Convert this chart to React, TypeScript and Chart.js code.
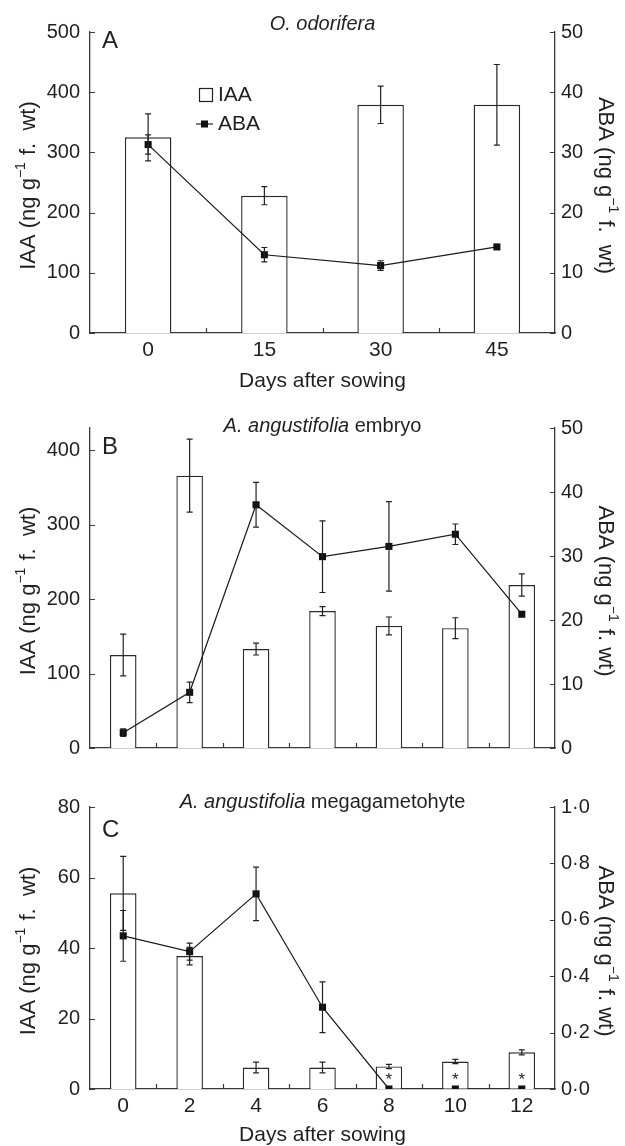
import React, { useEffect, useRef } from 'react';
import { Chart, registerables } from 'chart.js';

Chart.register(...registerables);

// ---------- Data ----------
// Panel A: O. odorifera
const daysA = ['0', '15', '30', '45'];
const iaaA = [325, 228, 379, 379];
const iaaAErr = [39, 15, 31, 67];
const abaA = [31.3, 13.0, 11.2, 14.3];
const abaAErr = [1.6, 1.2, 0.8, 0];
const leftTicksA = [0, 100, 200, 300, 400, 500];
const rightTicksA = [0, 10, 20, 30, 40, 50];

// Panel B: A. angustifolia embryo
const daysB = ['0', '2', '4', '6', '8', '10', '12'];
const iaaB = [125, 366, 133, 184, 164, 161, 219];
const iaaBErr = [28, 49, 8, 6, 12, 14, 15];
const abaB = [2.4, 8.7, 38.0, 29.9, 31.5, 33.4, 20.9];
const abaBErr = [0.6, 1.6, 3.5, 5.6, 7.0, 1.6, 0];
const leftTicksB = [0, 100, 200, 300, 400];
const rightTicksB = [0, 10, 20, 30, 40, 50];

// Panel C: A. angustifolia megagametophyte
const daysC = ['0', '2', '4', '6', '8', '10', '12'];
const iaaC = [55.5, 37.7, 6.1, 6.1, 6.4, 7.8, 10.4];
const iaaCErr = [10.5, 2.5, 1.5, 1.5, 0.6, 0.6, 0.7];
const abaC = [0.543, 0.487, 0.692, 0.29, 0, 0, 0];
const abaCErr = [0.09, 0.03, 0.095, 0.09, 0, 0, 0];
const starsC = [false, false, false, false, true, true, true];
const leftTicksC = [0, 20, 40, 60, 80];
const rightTicksC = [0, 0.2, 0.4, 0.6, 0.8, 1.0];
const rightTickLabelsC = ['0·0', '0·2', '0·4', '0·6', '0·8', '1·0'];

// ---------- Style ----------
const W = 625;
const LEFT = 90;
const RIGHT = 555;
const FONT = "'Liberation Sans', Arial, Helvetica, sans-serif";
const TEXT = '#231f20';
const AXIS = '#3a3a3a';
const TICK_FS = 20;

type Panel = {
  top: number;
  height: number;
  areaTop: number;
  areaBottom: number;
  labels: string[];
  iaa: number[];
  iaaErr: number[];
  aba: number[];
  abaErr: number[];
  leftMax: number;
  rightMax: number;
  leftTicks: number[];
  rightTicks: number[];
  rightTickLabels?: string[];
  titleItalic: string;
  titleRest: string;
  titleY: number;
  letter: string;
  letterY: number;
  showX: boolean;
  legend: boolean;
  stars?: boolean[];
  leftTitleGap: string;
  rightTitleGap: string;
};

const panels: Panel[] = [
  {
    top: 0, height: 395, areaTop: 32, areaBottom: 333,
    labels: daysA, iaa: iaaA, iaaErr: iaaAErr, aba: abaA, abaErr: abaAErr,
    leftMax: 500, rightMax: 50, leftTicks: leftTicksA, rightTicks: rightTicksA,
    titleItalic: 'O. odorifera', titleRest: '', titleY: 24,
    letter: 'A', letterY: 41, showX: true, legend: true,
    leftTitleGap: '  ', rightTitleGap: '  ',
  },
  {
    top: 395, height: 375, areaTop: 33, areaBottom: 357,
    labels: daysB, iaa: iaaB, iaaErr: iaaBErr, aba: abaB, abaErr: abaBErr,
    leftMax: 430, rightMax: 50, leftTicks: leftTicksB, rightTicks: rightTicksB,
    titleItalic: 'A. angustifolia', titleRest: ' embryo', titleY: 31,
    letter: 'B', letterY: 52, showX: false, legend: false,
    leftTitleGap: '  ', rightTitleGap: ' ',
  },
  {
    top: 770, height: 376, areaTop: 37, areaBottom: 319,
    labels: daysC, iaa: iaaC, iaaErr: iaaCErr, aba: abaC, abaErr: abaCErr,
    leftMax: 80, rightMax: 1.0, leftTicks: leftTicksC, rightTicks: rightTicksC,
    rightTickLabels: rightTickLabelsC,
    titleItalic: 'A. angustifolia', titleRest: ' megagametohyte', titleY: 32,
    letter: 'C', letterY: 60, showX: true, legend: false, stars: starsC,
    leftTitleGap: '  ', rightTitleGap: ' ',
  },
];

function drawRotatedTitle(
  ctx: CanvasRenderingContext2D, x: number, y: number, angle: number,
  pre: string, sup: string, post: string,
) {
  const fMain = `22px ${FONT}`;
  const fSup = `14px ${FONT}`;
  ctx.save();
  ctx.translate(x, y);
  ctx.rotate(angle);
  ctx.fillStyle = TEXT;
  ctx.textBaseline = 'middle';
  ctx.textAlign = 'left';
  ctx.font = fMain;
  const w1 = ctx.measureText(pre).width;
  const w3 = ctx.measureText(post).width;
  ctx.font = fSup;
  const w2 = ctx.measureText(sup).width;
  const total = w1 + w2 + w3 + 1;
  let cx = -total / 2;
  ctx.font = fMain;
  ctx.fillText(pre, cx, 0);
  cx += w1;
  ctx.font = fSup;
  ctx.fillText(sup, cx, -8);
  cx += w2 + 1;
  ctx.font = fMain;
  ctx.fillText(post, cx, 0);
  ctx.restore();
}

function makePlugin(p: Panel) {
  return {
    id: 'decor',
    afterDatasetsDraw(chart: any) {
      const ctx: CanvasRenderingContext2D = chart.ctx;
      const xs = chart.scales.x;
      const yl = chart.scales.y;
      const yr = chart.scales.y1;
      ctx.save();
      ctx.strokeStyle = '#222';
      ctx.lineWidth = 1.2;
      const cap = 3;
      const drawErr = (vals: number[], errs: number[], scale: any) => {
        vals.forEach((v, i) => {
          const e = errs[i];
          if (!e) return;
          const x = xs.getPixelForValue(i);
          const y1 = scale.getPixelForValue(v + e);
          const y2 = scale.getPixelForValue(v - e);
          ctx.beginPath();
          ctx.moveTo(x, y1);
          ctx.lineTo(x, y2);
          ctx.moveTo(x - cap, y1);
          ctx.lineTo(x + cap, y1);
          ctx.moveTo(x - cap, y2);
          ctx.lineTo(x + cap, y2);
          ctx.stroke();
        });
      };
      drawErr(p.iaa, p.iaaErr, yl);
      drawErr(p.aba, p.abaErr, yr);
      ctx.restore();
    },
    afterDraw(chart: any) {
      const ctx: CanvasRenderingContext2D = chart.ctx;
      const area = chart.chartArea;
      const xs = chart.scales.x;
      const yl = chart.scales.y;
      const yr = chart.scales.y1;
      ctx.save();
      // inward ticks
      ctx.strokeStyle = AXIS;
      ctx.lineWidth = 1.2;
      const tl = 5;
      ctx.beginPath();
      p.leftTicks.forEach((v) => {
        const y = Math.round(yl.getPixelForValue(v)) + 0.5;
        ctx.moveTo(area.left, y);
        ctx.lineTo(area.left + tl, y);
      });
      p.rightTicks.forEach((v) => {
        const y = Math.round(yr.getPixelForValue(v)) + 0.5;
        ctx.moveTo(area.right, y);
        ctx.lineTo(area.right - tl, y);
      });
      for (let i = 1; i < p.labels.length; i++) {
        const x = Math.round((xs.getPixelForValue(i - 1) + xs.getPixelForValue(i)) / 2) + 0.5;
        ctx.moveTo(x, area.bottom);
        ctx.lineTo(x, area.bottom - tl);
      }
      ctx.stroke();

      // stars
      if (p.stars) {
        ctx.fillStyle = TEXT;
        ctx.font = `17px ${FONT}`;
        ctx.textAlign = 'center';
        ctx.textBaseline = 'middle';
        p.stars.forEach((s, i) => {
          if (!s) return;
          ctx.fillText('*', xs.getPixelForValue(i), yl.getPixelForValue(0) - 9);
        });
      }

      // panel title
      ctx.fillStyle = TEXT;
      ctx.textBaseline = 'middle';
      ctx.textAlign = 'left';
      const fI = `italic 20px ${FONT}`;
      const fR = `20px ${FONT}`;
      ctx.font = fI;
      const wI = ctx.measureText(p.titleItalic).width;
      ctx.font = fR;
      const wR = ctx.measureText(p.titleRest).width;
      const cx = (area.left + area.right) / 2;
      let tx = cx - (wI + wR) / 2;
      ctx.font = fI;
      ctx.fillText(p.titleItalic, tx, p.titleY);
      tx += wI;
      ctx.font = fR;
      ctx.fillText(p.titleRest, tx, p.titleY);

      // panel letter
      ctx.font = `24px ${FONT}`;
      ctx.fillText(p.letter, area.left + 12, p.letterY);

      // axis titles
      const midY = (area.top + area.bottom) / 2 + 3;
      drawRotatedTitle(ctx, 29, midY, -Math.PI / 2, 'IAA (ng g', '−1', ` f.${p.leftTitleGap}wt)`);
      drawRotatedTitle(ctx, 605, midY, Math.PI / 2, 'ABA (ng g', '−1', ` f.${p.rightTitleGap}wt)`);

      // legend
      if (p.legend) {
        ctx.strokeStyle = '#222';
        ctx.lineWidth = 1.2;
        ctx.strokeRect(199.5, 88.5, 13, 13);
        ctx.fillStyle = TEXT;
        ctx.font = `21px ${FONT}`;
        ctx.textBaseline = 'middle';
        ctx.fillText('IAA', 218, 95);
        ctx.beginPath();
        ctx.moveTo(196, 124);
        ctx.lineTo(213, 124);
        ctx.stroke();
        ctx.fillStyle = '#111';
        ctx.fillRect(201, 120.5, 7, 7);
        ctx.fillStyle = TEXT;
        ctx.fillText('ABA', 218, 124);
      }
      ctx.restore();
    },
  };
}

function PanelChart({ p }: { p: Panel }) {
  const ref = useRef<HTMLCanvasElement | null>(null);
  useEffect(() => {
    if (!ref.current) return;
    const tickFont = { family: FONT, size: TICK_FS };
    const chart = new Chart(ref.current, {
      type: 'bar',
      data: {
        labels: p.labels,
        datasets: [
          {
            type: 'line',
            label: 'ABA',
            data: p.aba,
            yAxisID: 'y1',
            borderColor: '#1a1a1a',
            borderWidth: 1.2,
            pointStyle: 'rect',
            pointRadius: 5,
            pointBackgroundColor: '#111',
            pointBorderColor: '#111',
            pointBorderWidth: 0,
            tension: 0,
            fill: false,
            order: 0,
          } as any,
          {
            type: 'bar',
            label: 'IAA',
            data: p.iaa,
            yAxisID: 'y',
            backgroundColor: '#ffffff',
            borderColor: '#2a2a2a',
            borderWidth: 1.4,
            barPercentage: 0.4,
            categoryPercentage: 1.0,
            order: 1,
          },
        ],
      },
      options: {
        animation: false,
        responsive: false,
        maintainAspectRatio: false,
        layout: { padding: { top: p.areaTop, left: 0, right: 0, bottom: 0 } },
        plugins: {
          legend: { display: false },
          tooltip: { enabled: false },
        },
        scales: {
          x: {
            type: 'category',
            offset: true,
            grid: { display: false, drawTicks: false },
            border: { display: true, color: AXIS, width: 1.3 },
            ticks: {
              display: p.showX,
              color: TEXT,
              font: { family: FONT, size: 21 },
              padding: 5,
              maxRotation: 0,
              autoSkip: false,
            },
            title: {
              display: p.showX,
              text: 'Days after sowing',
              color: TEXT,
              font: { family: FONT, size: 21, lineHeight: 1 },
              padding: { top: 0, bottom: p.top === 0 ? 3 : 0 },
            },
            afterFit: (s: any) => {
              s.height = p.height - p.areaBottom;
            },
          },
          y: {
            type: 'linear',
            position: 'left',
            min: 0,
            max: p.leftMax,
            grid: { display: false, drawTicks: false },
            border: { display: true, color: AXIS, width: 1.3 },
            ticks: { color: TEXT, font: tickFont, padding: 10 },
            afterBuildTicks: (s: any) => {
              s.ticks = p.leftTicks.map((v) => ({ value: v }));
            },
            afterFit: (s: any) => {
              s.width = LEFT;
            },
          },
          y1: {
            type: 'linear',
            position: 'right',
            min: 0,
            max: p.rightMax,
            grid: { display: false, drawTicks: false },
            border: { display: true, color: AXIS, width: 1.3 },
            ticks: {
              color: TEXT,
              font: tickFont,
              padding: 6,
              callback: (v: any, i: number) =>
                p.rightTickLabels ? p.rightTickLabels[i] : String(v),
            },
            afterBuildTicks: (s: any) => {
              s.ticks = p.rightTicks.map((v) => ({ value: v }));
            },
            afterFit: (s: any) => {
              s.width = W - RIGHT;
            },
          },
        },
      },
      plugins: [makePlugin(p)],
    });
    return () => chart.destroy();
  }, [p]);
  return (
    <canvas
      ref={ref}
      width={W}
      height={p.height}
      style={{ position: 'absolute', left: 0, top: p.top, width: W, height: p.height }}
    />
  );
}

export default function App() {
  return (
    <div
      style={{
        position: 'absolute',
        left: 0,
        top: 0,
        width: W,
        height: 1146,
        background: '#ffffff',
        overflow: 'hidden',
      }}
    >
      {panels.map((p) => (
        <PanelChart key={p.letter} p={p} />
      ))}
    </div>
  );
}
